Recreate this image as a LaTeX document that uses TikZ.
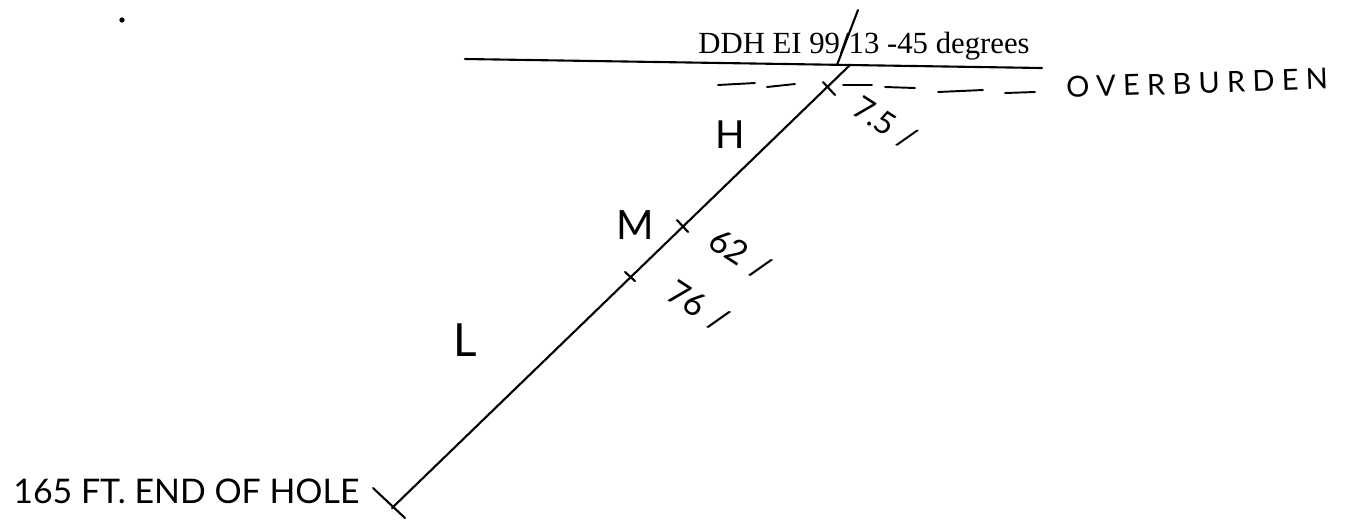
\documentclass[tikz,border=0pt]{standalone}
\usepackage{fontspec}
\setmainfont{Liberation Serif}
\newfontfamily\handfont{Lato}
\newfontfamily\handwide[LetterSpace=25]{Lato}
\usetikzlibrary{positioning}
\begin{document}
\begin{tikzpicture}[
        x=0.02cm, y=-0.02cm,
        hole/.style={line width=1.2pt, line cap=round},
        dashline/.style={line width=1.1pt, line cap=round},
        hand/.style={font=\handfont\fontsize{#1}{#1}\selectfont, inner sep=0pt}
      ]
        \useasboundingbox (0,0) rectangle (1349,522);
        % collar and end of hole
        \coordinate (collarL) at (465,59);
        \coordinate (collarR) at (1042,68);
        \coordinate (collar)  at (850,65);
        \coordinate (holeEnd) at (392,508);
        \draw[hole] (collarL) -- (collarR);
        \draw[hole] (collar) -- (holeEnd);
        % slash through the title
        \coordinate (slashA) at (837,65);
        \coordinate (slashB) at (858,10);
        \draw[hole] (slashA) -- (slashB);
        % ticks
        \coordinate (tickOa) at (823,82);  \coordinate (tickOb) at (835,95);
        \coordinate (tickHa) at (677,220); \coordinate (tickHb) at (688,232);
        \coordinate (tickMa) at (625,272); \coordinate (tickMb) at (635,281);
        \coordinate (tickLa) at (373,488); \coordinate (tickLb) at (405,518);
        \foreach \a/\b in {tickOa/tickOb, tickHa/tickHb, tickMa/tickMb, tickLa/tickLb}
          \draw[hole] (\a) -- (\b);
        % overburden dashes
        \foreach \xa/\ya/\xb/\yb in {718/85/755/83, 767/87/795/84, 843/85/872/85,
                                     885/87/915/88, 938/92/983/90, 1005/93/1035/92}
          \draw[dashline] (\xa,\ya) -- (\xb,\yb);
        % speck
        \node[fill, circle, inner sep=0pt, minimum size=3pt] (speck) at (122,20) {};
        % labels
        \node[font=\fontsize{17.5}{17.5}\selectfont, inner sep=0pt, anchor=base west] (title) at (698,53) {DDH EI 99/13 -45 degrees};
        \node[hand=16.5, rotate=2] (over) at (1197,83) {\handwide OVERBURDEN};
        \node[hand=22] (H) at (730,135) {H};
        \node[hand=23] (M) at (635,225) {M};
        \node[hand=26] (L) at (465,340) {L};
        \node[hand=18, rotate=-33] (valO) at (885,123) {7.5\,\,/};
        \node[hand=19, rotate=-33] (valH) at (740,254) {62\,\,/};
        \node[hand=19, rotate=-33] (valM) at (698,306) {76\,\,/};
        \node[hand=19.3, anchor=west] (endlabel) at (13,491) {165 FT. END OF HOLE};
      \end{tikzpicture}
\end{document}
